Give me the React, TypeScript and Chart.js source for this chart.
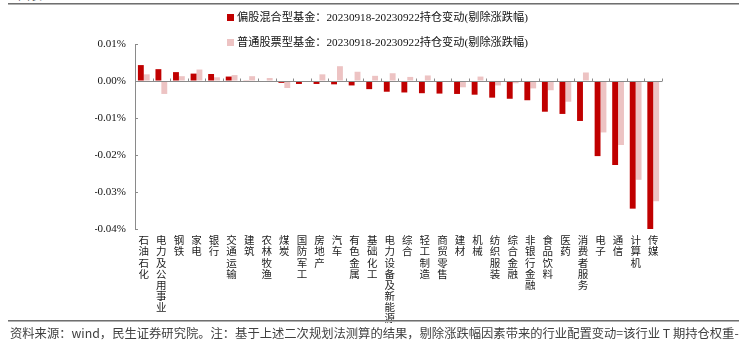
import React, { useEffect, useRef } from "react";
import { Chart, registerables } from "chart.js";

Chart.register(...registerables);

const categories = [
  "石油石化", "电力及公用事业", "钢铁", "家电", "银行", "交通运输", "建筑", "农林牧渔",
  "煤炭", "国防军工", "房地产", "汽车", "有色金属", "基础化工", "电力设备及新能源", "综合",
  "轻工制造", "商贸零售", "建材", "机械", "纺织服装", "综合金融", "非银行金融", "食品饮料",
  "医药", "消费者服务", "电子", "通信", "计算机", "传媒",
];

// values in percent units (0.01 => 0.01%)
const mixedFund = [
  0.0043, 0.0032, 0.0024, 0.0020, 0.0019, 0.0012, 0.0001, -0.0001,
  -0.0005, -0.0008, -0.0008, -0.0009, -0.0012, -0.0022, -0.0029, -0.0031,
  -0.0033, -0.0034, -0.0035, -0.0037, -0.0045, -0.0048, -0.0052, -0.0083,
  -0.0089, -0.0108, -0.0203, -0.0227, -0.0345, -0.0400,
];

const stockFund = [
  0.0018, -0.0035, 0.0013, 0.0031, 0.0010, 0.0016, 0.0013, 0.0008,
  -0.0019, -0.0001, 0.0018, 0.0040, 0.0025, 0.0014, 0.0021, 0.0011,
  0.0015, 0.0000, -0.0017, 0.0012, -0.0012, -0.0006, -0.0020, -0.0025,
  -0.0056, 0.0023, -0.0139, -0.0173, -0.0267, -0.0325,
];

const seriesNames = [
  "偏股混合型基金：20230918-20230922持仓变动(剔除涨跌幅)",
  "普通股票型基金：20230918-20230922持仓变动(剔除涨跌幅)",
];
const seriesColors = ["#C00000", "#EDC3C3"];

const yMin = -0.04;
const yMax = 0.01;
const yStep = 0.01;

const titleText = "图表：";
const sourceNote =
  "资料来源：wind，民生证券研究院。注：基于上述二次规划法测算的结果，剔除涨跌幅因素带来的行业配置变动=该行业 T 期持仓权重-";

const serifFont = "'Liberation Serif', 'Noto Sans CJK SC', serif";

export default function App() {
  const ref = useRef<HTMLCanvasElement>(null);

  useEffect(() => {
    const canvas = ref.current;
    if (!canvas) return;

    const axisMarks = {
      id: "axisMarks",
      afterDatasetsDraw(chart: any) {
        const { ctx, chartArea } = chart;
        const x = chart.scales.x;
        const y = chart.scales.y;
        const y0 = Math.round(y.getPixelForValue(0)) + 0.5;
        const n = categories.length;
        const w = x.getPixelForValue(1) - x.getPixelForValue(0);
        ctx.save();
        ctx.strokeStyle = "#8a8a8a";
        ctx.lineWidth = 1;
        ctx.beginPath();
        ctx.moveTo(chartArea.left, y0);
        ctx.lineTo(chartArea.right, y0);
        for (let i = 0; i <= n; i++) {
          const px = Math.round(x.getPixelForValue(0) - w / 2 + i * w) + 0.5;
          ctx.moveTo(px, y0);
          ctx.lineTo(px, y0 - 3);
        }
        y.ticks.forEach((_t: any, i: number) => {
          const py = Math.round(y.getPixelForTick(i)) + 0.5;
          ctx.moveTo(chartArea.left, py);
          ctx.lineTo(chartArea.left + 3, py);
        });
        ctx.stroke();
        ctx.restore();
      },
    };

    const chart = new Chart(canvas, {
      type: "bar",
      data: {
        labels: categories.map((c) => c.split("")),
        datasets: [
          {
            label: seriesNames[0],
            data: mixedFund,
            backgroundColor: seriesColors[0],
            borderWidth: 0,
          },
          {
            label: seriesNames[1],
            data: stockFund,
            backgroundColor: seriesColors[1],
            borderWidth: 0,
          },
        ],
      },
      options: {
        responsive: false,
        animation: false,
        devicePixelRatio: 1,
        layout: { padding: { left: 87, right: 69, top: 44, bottom: 0 } },
        plugins: {
          legend: { display: false },
          tooltip: { enabled: false },
        },
        datasets: {
          bar: { categoryPercentage: 0.67, barPercentage: 1.0 },
        },
        scales: {
          x: {
            grid: { display: false, drawTicks: false },
            border: { display: false },
            ticks: {
              autoSkip: false,
              maxRotation: 0,
              minRotation: 0,
              padding: 7,
              color: "#222",
              font: { family: serifFont, size: 10.5, lineHeight: 1.06 },
            },
            afterFit(scale: any) {
              scale.height = 100;
            },
          },
          y: {
            min: yMin,
            max: yMax,
            grid: { drawOnChartArea: false, drawTicks: false },
            border: { display: true, color: "#8a8a8a", width: 1 },
            ticks: {
              stepSize: yStep,
              padding: 9,
              color: "#111",
              font: { family: serifFont, size: 11 },
              callback: (v: any) => Number(v).toFixed(2) + "%",
            },
            afterFit(scale: any) {
              scale.width = 40;
            },
          },
        },
      },
      plugins: [axisMarks],
    });

    return () => chart.destroy();
  }, []);

  return (
    <div
      style={{
        position: "fixed",
        left: 0,
        top: 0,
        width: 739,
        height: 353,
        overflow: "hidden",
        background: "#fff",
      }}
    >
      <div
        style={{
          position: "absolute",
          left: 18,
          top: -12,
          fontFamily: "'Noto Sans CJK SC', sans-serif",
          fontSize: 12,
          lineHeight: "14px",
          color: "#333",
          whiteSpace: "nowrap",
        }}
      >
        {titleText}
      </div>
      <div
        style={{
          position: "absolute",
          left: 8,
          right: 0,
          top: 3,
          height: 0,
          borderTop: "1px solid #6f6f6f",
          borderBottom: "1px solid #b0b0b0",
        }}
      />
      <canvas
        ref={ref}
        width={723}
        height={329}
        style={{ position: "absolute", left: 8, top: 0, width: 723, height: 329 }}
      />
      {seriesNames.map((name, i) => (
        <div
          key={name}
          style={{
            position: "absolute",
            left: 227,
            top: 10 + i * 25,
            height: 14,
            lineHeight: "14px",
            fontFamily: serifFont,
            fontSize: 11.2,
            color: "#111",
            whiteSpace: "nowrap",
            display: "flex",
            alignItems: "center",
          }}
        >
          <span
            style={{
              display: "inline-block",
              width: 7,
              height: 7,
              background: seriesColors[i],
              marginRight: 3,
            }}
          />
          <span>{name}</span>
        </div>
      ))}
      <div
        style={{
          position: "absolute",
          left: 8,
          right: 0,
          top: 320,
          height: 0,
          borderTop: "1px solid #6f6f6f",
          borderBottom: "1px solid #b0b0b0",
        }}
      />
      <div
        style={{
          position: "absolute",
          left: 10,
          top: 325,
          whiteSpace: "nowrap",
          fontFamily: "'Noto Sans CJK SC', sans-serif",
          fontSize: 12.3,
          lineHeight: "16px",
          color: "#404040",
        }}
      >
        {sourceNote}
      </div>
    </div>
  );
}
